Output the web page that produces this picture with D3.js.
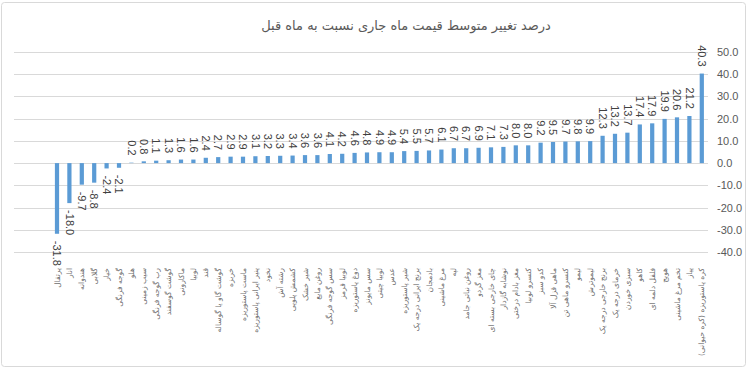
<!DOCTYPE html>
<html>
<head>
<meta charset="utf-8">
<script src="https://cdn.jsdelivr.net/npm/d3@7"></script>
<style>
  body { margin: 0; background: #fff; }
  svg { display: block; }
</style>
</head>
<body>
<svg id="chart"></svg>
<script>
const title = "درصد تغییر متوسط قیمت ماه جاری نسبت به ماه قبل";

const items = [
    "پرتقال", "انار", "هندوانه", "گلابی", "خیار", "گوجه فرنگی", "هلو", "سیب زمینی",
    "رب گوجه فرنگی", "گوشت گوسفند", "ماکارونی", "لوبیا", "قند", "گوشت گاو یا گوساله",
    "خربزه", "ماست پاستوریزه", "پنیر ایرانی پاستوریزه", "نخود", "رشته آش", "کشمش پلویی",
    "شیر خشک", "روغن مایع", "سس گوجه فرنگی", "لوبیا قرمز", "دوغ پاستوریزه", "سس مایونز",
    "لوبیا چیتی", "عدس", "شیر پاستوریزه", "برنج ایرانی درجه یک", "بادمجان", "مرغ ماشینی",
    "لپه", "روغن نباتی جامد", "مغز گردو", "چای خارجی بسته ای", "نوشابه گازدار",
    "مغز بادام درختی", "کنسرو لوبیا", "کدو سبز", "ماهی قزل آلا", "کنسرو ماهی تن", "لیمو",
    "لیموترش", "برنج خارجی درجه یک", "خرمای درجه یک", "سبزی خوردن", "کاهو",
    "فلفل دلمه ای", "هویج", "تخم مرغ ماشینی", "پیاز", "کره پاستوریزه (کره حیوانی)"
];

const changes = [
    -31.8, -18.0, -9.7, -8.8, -2.4, -2.1, 0.2, 0.8, 1.1, 1.3, 1.6, 1.6, 2.4, 2.7,
    2.9, 2.9, 3.1, 3.2, 3.3, 3.4, 3.6, 3.6, 4.1, 4.2, 4.6, 4.8, 4.9, 4.9, 5.4, 5.5,
    5.7, 6.1, 6.7, 6.7, 6.9, 7.1, 7.3, 8.0, 8.0, 9.2, 9.5, 9.7, 9.8, 9.9, 12.3,
    13.2, 13.7, 17.4, 17.9, 19.9, 20.6, 21.2, 40.3
];

const yTicks = [-40, -30, -20, -10, 0, 10, 20, 30, 40, 50];

const W = 747, H = 369;
const data = items.map((name, i) => ({ name, value: changes[i] }));

const svg = d3.select("#chart")
    .attr("width", W)
    .attr("height", H);

// chart frame
svg.append("rect")
    .attr("x", 1.5).attr("y", 2.5)
    .attr("width", W - 3).attr("height", H - 5)
    .attr("rx", 3)
    .attr("fill", "#fff")
    .attr("stroke", "#d9d9d9");

const x = d3.scaleBand()
    .domain(d3.range(items.length))
    .range([50.8, 708])
    .paddingInner(0.66)
    .paddingOuter(0.33);

const y = d3.scaleLinear()
    .domain([-40, 50])
    .range([252, 52]);

// gridlines
svg.append("g")
    .selectAll("line")
    .data(yTicks)
    .enter().append("line")
    .attr("x1", 14).attr("x2", 708)
    .attr("y1", d => Math.round(y(d)) + 0.5)
    .attr("y2", d => Math.round(y(d)) + 0.5)
    .attr("stroke", "#d9d9d9")
    .attr("stroke-width", 1);

// right axis labels
const yAxis = svg.append("g")
    .attr("transform", "translate(710,0)")
    .call(d3.axisRight(y).tickValues(yTicks).tickSize(0).tickPadding(7).tickFormat(d => d.toFixed(1)));
yAxis.select(".domain").remove();
yAxis.selectAll("text")
    .attr("fill", "#595959")
    .style("font-family", "'Liberation Sans', Arial, sans-serif")
    .style("font-size", "11px");

// bars
svg.append("g")
    .selectAll("rect")
    .data(data)
    .enter().append("rect")
    .attr("x", (d, i) => x(i))
    .attr("width", x.bandwidth())
    .attr("y", d => y(Math.max(0, d.value)))
    .attr("height", d => Math.abs(y(d.value) - y(0)))
    .attr("fill", "#5b9bd5");

// value labels
svg.append("g")
    .selectAll("text")
    .data(data)
    .enter().append("text")
    .attr("transform", (d, i) => {
        const cx = x(i) + x.bandwidth() / 2;
        const cy = d.value >= 0 ? y(d.value) - 7 : y(d.value) + 7;
        return "translate(" + cx + "," + cy + ") rotate(90)";
    })
    .attr("dy", "0.35em")
    .attr("text-anchor", d => d.value >= 0 ? "end" : "start")
    .attr("fill", "#404040")
    .style("font-family", "'Liberation Sans', Arial, sans-serif")
    .style("font-size", "11px")
    .text(d => d.value.toFixed(1));

// category labels
svg.append("g")
    .selectAll("text")
    .data(data)
    .enter().append("text")
    .attr("transform", (d, i) => "translate(" + (x(i) + x.bandwidth() / 2) + ",268) rotate(-90)")
    .attr("dy", "0.35em")
    .attr("direction", "rtl")
    .attr("text-anchor", "start")
    .attr("fill", "#6f6f6f")
    .style("font-family", "'DejaVu Sans', sans-serif")
    .style("font-size", "7.5px")
    .text(d => d.name);

// title
svg.append("text")
    .attr("x", 406)
    .attr("y", 30)
    .attr("text-anchor", "middle")
    .attr("direction", "rtl")
    .attr("fill", "#595959")
    .style("font-family", "'DejaVu Sans', sans-serif")
    .style("font-size", "13px")
    .text(title);
</script>
</body>
</html>
